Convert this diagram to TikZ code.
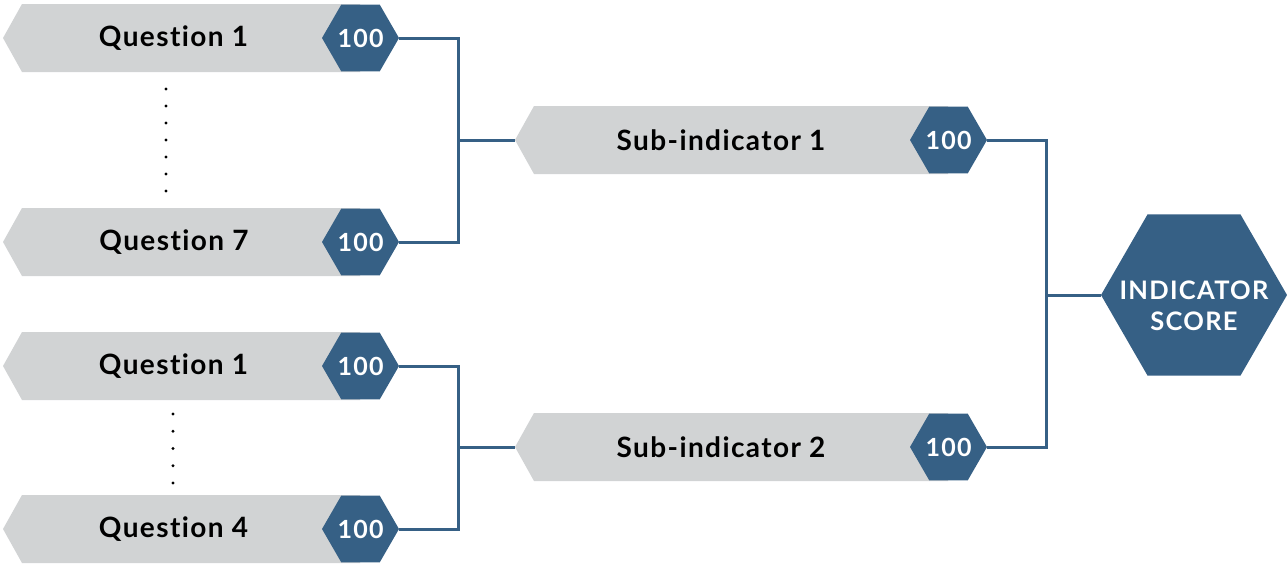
\documentclass[tikz,border=0pt]{standalone}
\usepackage{fontspec}
\setmainfont{Lato}[LetterSpace=5, Ligatures={NoCommon,NoRare}]
\usetikzlibrary{shapes.geometric}
\definecolor{hexblue}{HTML}{366085}
\definecolor{boxgray}{HTML}{D1D3D4}
\tikzset{
  hexnode/.style={regular polygon, regular polygon sides=6, fill=hexblue, text=white,
    inner sep=0pt, minimum size=#1, font=\bfseries\fontsize{25}{30}\selectfont},
  lbl/.style={inner sep=0pt, font=\bfseries\fontsize{28}{32}\selectfont, text=black},
  wlbl/.style={inner sep=0pt, text=white, align=center, font=\bfseries\fontsize{25.5}{31}\selectfont},
  conn/.style={draw=hexblue, line width=3pt},
  dotmark/.style={circle, fill=black, inner sep=0pt, minimum size=3.4pt}
}
\newcommand{\grayarrow}[3]{%
  \fill[boxgray] (#1,#2) -- ({#1+19},{#2-34}) -- (#3,{#2-34}) -- (#3,{#2+34}) -- ({#1+19},{#2+34}) -- cycle;}
\begin{document}
\begin{tikzpicture}[x=1pt,y=-1pt]
\useasboundingbox (0,0) rectangle (1287,565);
% question boxes
\grayarrow{3}{38}{360}
\node[lbl] (q1t) at (173.5,38.5) {Question 1};
\node[hexnode=77] (q1h) at (360.5,38) {100};
\grayarrow{3}{242}{360}
\node[lbl] (q7t) at (174,242.5) {Question 7};
\node[hexnode=77] (q7h) at (360.5,242) {100};
\grayarrow{3}{366}{360}
\node[lbl] (q1bt) at (173.5,366.5) {Question 1};
\node[hexnode=77] (q1bh) at (360.5,366) {100};
\grayarrow{3}{529}{360}
\node[lbl] (q4t) at (173.5,529.5) {Question 4};
\node[hexnode=77] (q4h) at (360.5,529) {100};
% dots
\foreach \k in {0,...,6} {\node[dotmark] (da\k) at (166,{89+17*\k}) {};}
\foreach \k in {0,...,4} {\node[dotmark] (db\k) at (173,{414+17.25*\k}) {};}
% sub-indicators
\grayarrow{515}{140}{948}
\coordinate (s1w) at (515,140);
\node[lbl] (s1t) at (721,140.5) {Sub-indicator 1};
\node[hexnode=77] (s1h) at (948.5,140) {100};
\grayarrow{515}{447}{948}
\coordinate (s2w) at (515,447);
\node[lbl] (s2t) at (721,447.5) {Sub-indicator 2};
\node[hexnode=77] (s2h) at (948.5,447) {100};
% indicator score
\node[hexnode=186] (ind) at (1194,295) {};
\node[wlbl] (indt) at (1194,306) {INDICATOR\\SCORE};
% connectors
\coordinate (j1) at (458,140);
\coordinate (j2) at (458,447);
\coordinate (j3) at (1046,295);
\draw[conn] (q1h.east) -| (j1) |- (q7h.east);
\draw[conn] (j1) -- (s1w);
\draw[conn] (q1bh.east) -| (j2) |- (q4h.east);
\draw[conn] (j2) -- (s2w);
\draw[conn] (s1h.east) -| (j3) |- (s2h.east);
\draw[conn] (j3) -- (ind.west);
\end{tikzpicture}
\end{document}
